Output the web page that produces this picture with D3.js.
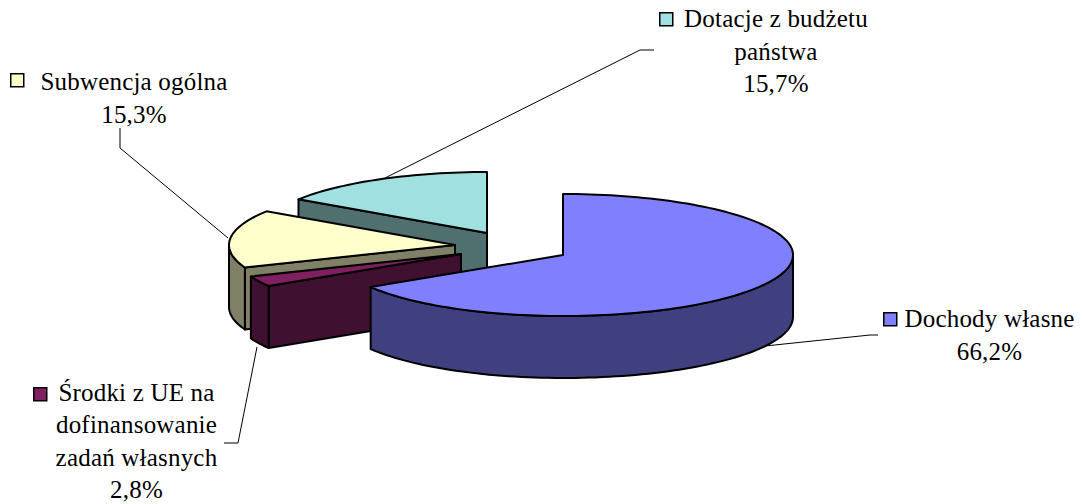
<!DOCTYPE html>
<html>
<head>
<meta charset="utf-8">
<script src="https://cdn.jsdelivr.net/npm/d3@7"></script>
<style>
  html, body { margin: 0; padding: 0; background: #fff; }
  svg { display: block; }
  text { font-family: "Liberation Serif", "Times New Roman", serif; font-size: 25px; letter-spacing: 0.2px; fill: #000; }
</style>
</head>
<body>
<svg id="chart" width="1082" height="504"></svg>
<script>
// values
const categories = ['Dochody własne', 'Środki z UE na dofinansowanie zadań własnych', 'Subwencja ogólna', 'Dotacje z budżetu państwa'];
const values = [66.2, 2.8, 15.3, 15.7];
const valueLabels = ['66,2%', '2,8%', '15,3%', '15,7%'];
const labelLines = [
    ['Dochody własne'],
    ['Środki z UE na', 'dofinansowanie', 'zadań własnych'],
    ['Subwencja ogólna'],
    ['Dotacje z budżetu', 'państwa']
];
const topColors = ['#8080ff', '#802060', '#ffffcc', '#a0e0e0'];
const sideColors = ['#404080', '#401030', '#808066', '#507070'];

// layout
const rxRight = 230, rxLeft = 226, ry = 61, depth = 62; // left side is a bit foreshortened in the original
const centers = [[563, 255], [461, 254], [455, 245], [487, 233]];
const labelX = [989.5, 136.5, 134, 776];
const labelY = [327, 400.5, 90, 27];
const lineStep = 32.5;
const keys = [[883, 312], [33, 387], [10, 73], [659, 12]];
const leaders = [
    [[765, 346], [870, 335], [878, 335]],
    [[257, 347], [238, 443], [224, 443]],
    [[228, 238], [120, 148], [120, 128]],
    [[385, 178], [640, 50], [654, 50]]
];

const svg = d3.select('#chart');
const line = d3.line();

const pie = d3.pie().sort(null).startAngle(0).endAngle(2 * Math.PI);
const arcs = pie(values);

function project(i, a, dz) {
    const c = centers[i];
    const s = Math.sin(a);
    return [c[0] + (s < 0 ? rxLeft : rxRight) * s, c[1] - ry * Math.cos(a) + (dz || 0)];
}

function rimPoints(i, a0, a1, dz) {
    const n = Math.max(2, Math.ceil((a1 - a0) / 0.03));
    return d3.range(n + 1).map(k => project(i, a0 + (a1 - a0) * k / n, dz));
}

const sliceG = svg.append('g');

// back slices first, the big one goes on top
[3, 2, 1, 0].forEach(i => {
    const d = arcs[i];
    const g = sliceG.append('g');
    const c = centers[i];
    const apex = [c[0], c[1]];
    const apexLow = [c[0], c[1] + depth];
    const side = pts => g.append('path')
        .attr('d', line(pts) + 'Z')
        .attr('fill', sideColors[i])
        .attr('stroke', '#000')
        .attr('stroke-width', 2)
        .attr('stroke-linejoin', 'round');

    // straight cut walls, only when they face the viewer
    if (Math.sin(d.startAngle) < -0.001) {
        const p = project(i, d.startAngle);
        side([apex, p, [p[0], p[1] + depth], apexLow]);
    }
    if (Math.sin(d.endAngle) > 0.001) {
        const p = project(i, d.endAngle);
        side([apex, p, [p[0], p[1] + depth], apexLow]);
    }

    // outer wall, front half of the rim
    const a0 = Math.max(d.startAngle, Math.PI / 2);
    const a1 = Math.min(d.endAngle, 3 * Math.PI / 2);
    if (a1 > a0) {
        side(rimPoints(i, a0, a1, 0).concat(rimPoints(i, a0, a1, depth).reverse()));
    }

    // top face
    g.append('path')
        .attr('d', line([apex].concat(rimPoints(i, d.startAngle, d.endAngle, 0))) + 'Z')
        .attr('fill', topColors[i])
        .attr('stroke', '#000')
        .attr('stroke-width', 2)
        .attr('stroke-linejoin', 'round');
});

// leader lines
svg.append('g').selectAll('path')
    .data(leaders)
    .enter().append('path')
    .attr('d', d => line(d))
    .attr('fill', 'none')
    .attr('stroke', '#000')
    .attr('stroke-width', 1);

// legend keys
svg.append('g').selectAll('rect')
    .data(keys)
    .enter().append('rect')
    .attr('x', d => d[0] + 0.75)
    .attr('y', d => d[1] + 0.75)
    .attr('width', 13)
    .attr('height', 13)
    .attr('fill', (d, i) => topColors[i])
    .attr('stroke', '#000')
    .attr('stroke-width', 1.5);

// labels
categories.forEach((name, i) => {
    const lines = labelLines[i].concat([valueLabels[i]]);
    svg.append('g').selectAll('text')
        .data(lines)
        .enter().append('text')
        .attr('x', labelX[i])
        .attr('y', (d, k) => labelY[i] + k * lineStep)
        .attr('text-anchor', 'middle')
        .text(d => d);
});
</script>
</body>
</html>
